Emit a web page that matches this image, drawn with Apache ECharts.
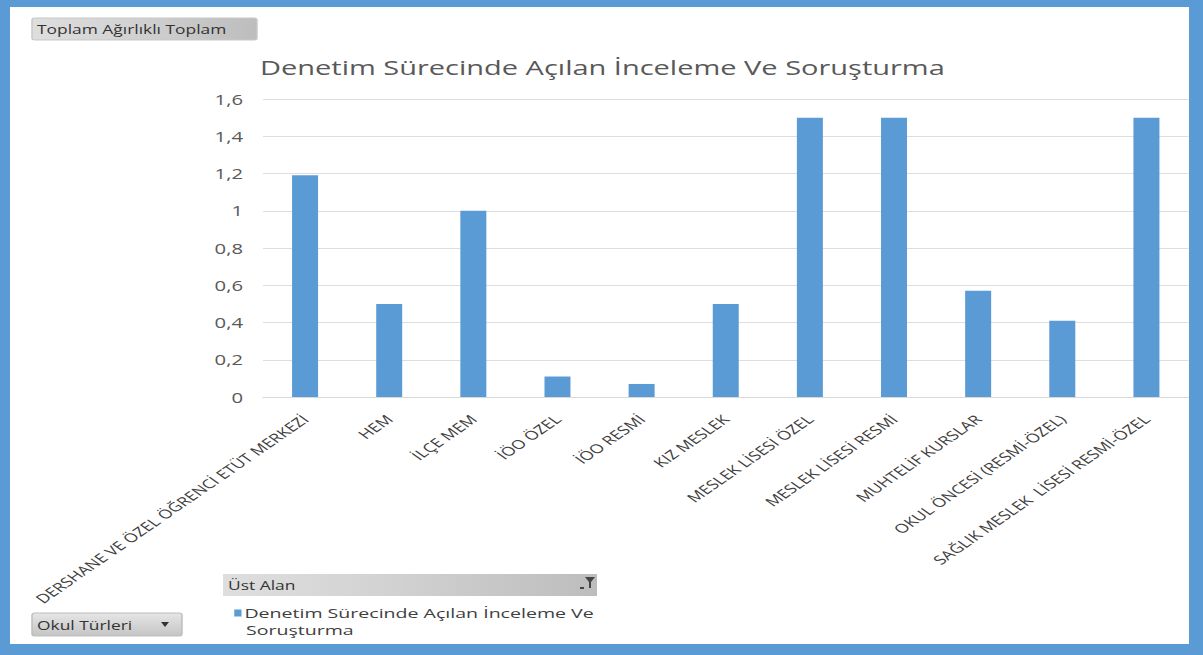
<!DOCTYPE html>
<html>
<head>
<meta charset="utf-8">
<script src="https://cdn.jsdelivr.net/npm/echarts@6/dist/echarts.min.js"></script>
<style>
html,body{margin:0;padding:0;background:#fff;overflow:hidden;}
#wrap{width:1203px;height:655px;position:relative;overflow:hidden;}
#c{height:655px;transform-origin:0 0;}
</style>
</head>
<body>
<div id="wrap"><div id="c"></div></div>
<script>
const categories = [
  'DERSHANE VE ÖZEL ÖĞRENCİ ETÜT MERKEZİ',
  'HEM',
  'İLÇE MEM',
  'İÖO ÖZEL',
  'İÖO RESMİ',
  'KIZ MESLEK',
  'MESLEK LİSESİ ÖZEL',
  'MESLEK LİSESİ RESMİ',
  'MUHTELİF KURSLAR',
  'OKUL ÖNCESİ (RESMİ-ÖZEL)',
  'SAĞLIK MESLEK  LİSESİ RESMİ-ÖZEL'
];
const values = [1.19, 0.5, 1.0, 0.11, 0.07, 0.5, 1.5, 1.5, 0.57, 0.41, 1.5];
const seriesName = 'Denetim Sürecinde Açılan İnceleme Ve Soruşturma';
const chartTitle = 'Denetim Sürecinde Açılan İnceleme Ve Soruşturma';
const yTicks = { min: 0, max: 1.6, interval: 0.2 };
const buttonLabels = ['Toplam Ağırlıklı Toplam', 'Okul Türleri', 'Üst Alan'];

// The reference picture is stretched horizontally; the chart is drawn in an
// unstretched space and the container is scaled by K.
const K = 1.45;
const W = 1203, H = 655;
const el = document.getElementById('c');
el.style.width = (W / K) + 'px';
el.style.transform = 'scaleX(' + K + ')';
const sx = v => v / K;
const BLUE = '#5B9BD5';
const FONT = 'Open Sans';
const legendSplit = 'Denetim Sürecinde Açılan İnceleme Ve';

function btnGrad() {
  return new echarts.graphic.LinearGradient(0, 0, 1, 0, [
    { offset: 0, color: '#dedede' },
    { offset: 0.35, color: '#d5d5d5' },
    { offset: 1, color: '#bdbdbd' }
  ]);
}
function btnVGrad() {
  return new echarts.graphic.LinearGradient(0, 0, 0, 1, [
    { offset: 0, color: '#e6e6e6' },
    { offset: 1, color: '#c4c4c4' }
  ]);
}

const chart = echarts.init(el, null, { renderer: 'svg' });
chart.setOption({
  backgroundColor: '#fff',
  animation: false,
  title: {
    text: chartTitle,
    left: sx(260),
    top: 57,
    padding: 0,
    textStyle: { fontFamily: FONT, fontSize: 20, fontWeight: 'normal', color: '#595959' }
  },
  legend: {
    left: sx(227),
    top: 601,
    itemWidth: 5,
    itemHeight: 7,
    itemGap: 4,
    icon: 'rect',
    formatter: () => legendSplit,
    textStyle: { fontFamily: FONT, fontSize: 13.5, color: '#404040', padding: [0, 0, 0, -3] },
    data: [seriesName]
  },
  grid: { left: sx(263), right: sx(15), top: 99, bottom: 258, containLabel: false },
  xAxis: {
    type: 'category',
    data: categories,
    axisLine: { show: true, lineStyle: { color: '#d9d9d9' } },
    axisTick: { show: false },
    axisLabel: {
      interval: 0,
      rotate: 45,
      margin: 20,
      fontFamily: FONT,
      fontSize: 12.5,
      color: '#404040'
    }
  },
  yAxis: {
    type: 'value',
    min: yTicks.min,
    max: yTicks.max,
    interval: yTicks.interval,
    axisLine: { show: false },
    axisTick: { show: false },
    splitLine: { lineStyle: { color: '#dedede' } },
    axisLabel: {
      margin: sx(20),
      fontFamily: FONT,
      fontSize: 14,
      color: '#595959',
      formatter: v => String(Number(v.toFixed(1))).replace('.', ',')
    }
  },
  series: [{
    name: seriesName,
    type: 'bar',
    data: values,
    barWidth: sx(26),
    itemStyle: { color: BLUE }
  }],
  graphic: [
    // frame
    { type: 'rect', shape: { x: 0, y: 0, width: sx(W), height: 7 }, style: { fill: BLUE }, z: 100 },
    { type: 'rect', shape: { x: 0, y: 0, width: sx(10), height: H }, style: { fill: BLUE }, z: 100 },
    { type: 'rect', shape: { x: sx(1189), y: 0, width: sx(14), height: H }, style: { fill: BLUE }, z: 100 },
    { type: 'rect', shape: { x: 0, y: 644, width: sx(W), height: 11 }, style: { fill: BLUE }, z: 100 },
    // Toplam button
    { type: 'rect', shape: { x: sx(32), y: 18, width: sx(225), height: 22, r: 2 }, style: { fill: btnGrad(), stroke: '#c8c8c8', lineWidth: 1 }, z: 50 },
    { type: 'text', x: sx(37), y: 29, style: { text: buttonLabels[0], fontFamily: FONT, fontSize: 12, fill: '#333', verticalAlign: 'middle' }, z: 51 },
    // Okul Türleri button
    { type: 'rect', shape: { x: sx(32), y: 613, width: sx(150), height: 23, r: 2 }, style: { fill: btnVGrad(), stroke: '#bdbdbd', lineWidth: 1 }, z: 50 },
    { type: 'text', x: sx(37), y: 625, style: { text: buttonLabels[1], fontFamily: FONT, fontSize: 12, fill: '#333', verticalAlign: 'middle' }, z: 51 },
    { type: 'polygon', shape: { points: [[sx(161), 622], [sx(169), 622], [sx(165), 627]] }, style: { fill: '#333' }, z: 51 },
    // Üst Alan bar
    { type: 'rect', shape: { x: sx(223), y: 574, width: sx(374), height: 22 }, style: { fill: btnGrad() }, z: 50 },
    { type: 'text', x: sx(228), y: 585, style: { text: buttonLabels[2], fontFamily: FONT, fontSize: 12, fill: '#333', verticalAlign: 'middle' }, z: 51 },
    { type: 'polygon', shape: { points: [[sx(585), 577], [sx(595), 577], [sx(591), 582], [sx(591), 588], [sx(589), 588], [sx(589), 582]] }, style: { fill: '#444' }, z: 51 },
    { type: 'rect', shape: { x: sx(580), y: 587, width: sx(4), height: 2 }, style: { fill: '#444' }, z: 51 },
    // legend second line
    { type: 'text', x: sx(246), y: 630, style: { text: seriesName.slice(legendSplit.length).trim(), fontFamily: FONT, fontSize: 13.5, fill: '#404040', verticalAlign: 'middle' }, z: 51 }
  ]
});
</script>
</body>
</html>
